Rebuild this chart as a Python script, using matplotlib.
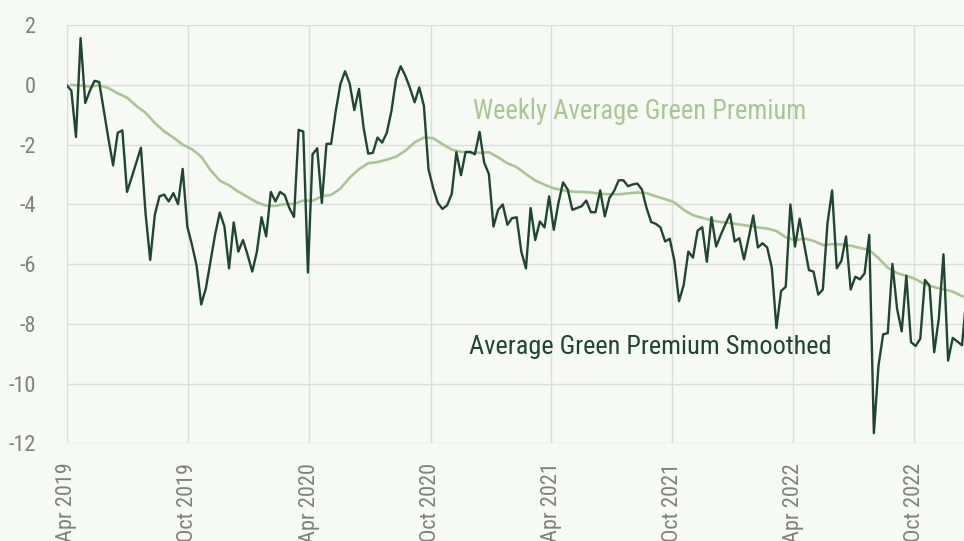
import numpy as np
import pandas as pd
import matplotlib
matplotlib.use("Agg")
import matplotlib.pyplot as plt
import matplotlib.dates as mdates
from matplotlib import font_manager

# pick the narrowest installed sans we can find
fonts = font_manager.fontManager.ttflist
names = {f.name for f in fonts}
if 'Liberation Sans Narrow' in names:
    family, stretch = 'Liberation Sans Narrow', 'normal'
elif 'Roboto Condensed' in names:
    family, stretch = 'Roboto Condensed', 'normal'
elif any(f.name == 'DejaVu Sans' and f.stretch == 'condensed' for f in fonts):
    family, stretch = 'DejaVu Sans', 'condensed'
else:
    family, stretch = 'Roboto', 'normal'

plt.rcParams['font.family'] = [family, 'DejaVu Sans']
plt.rcParams['font.stretch'] = stretch
plt.rcParams['axes.unicode_minus'] = False

# weekly observations, starting Apr 2019
weeks = pd.date_range('2019-04-01', periods=195, freq='7D')

smoothed = [
    0.0, -0.19, -1.74, 1.57, -0.6, -0.19, 0.14, 0.1, -0.85, -1.8,
    -2.69, -1.6, -1.52, -3.58, -3.1, -2.6, -2.1, -4.3, -5.86, -4.34,
    -3.73, -3.67, -3.9, -3.62, -3.99, -2.81, -4.74, -5.35, -6.05, -7.35,
    -6.81, -5.9, -5.0, -4.27, -4.74, -6.14, -4.6, -5.58, -5.19, -5.69,
    -6.25, -5.58, -4.43, -5.07, -3.58, -3.9, -3.58, -3.69, -4.12, -4.42,
    -1.5, -1.56, -6.28, -2.32, -2.12, -3.95, -1.97, -1.97, -0.87, 0.03,
    0.46, 0.05, -0.84, -0.13, -1.43, -2.3, -2.27, -1.76, -1.93, -1.6,
    -0.87, 0.2, 0.63, 0.31, -0.1, -0.58, -0.08, -0.7, -2.83, -3.45,
    -3.95, -4.15, -4.03, -3.65, -2.25, -3.02, -2.24, -2.24, -2.32, -1.57,
    -2.6, -2.98, -4.74, -4.18, -4.0, -4.68, -4.46, -4.43, -5.58, -6.14,
    -4.12, -5.19, -4.57, -4.77, -3.73, -4.85, -3.95, -3.26, -3.5, -4.18,
    -4.12, -4.06, -3.87, -4.26, -4.26, -3.53, -4.4, -3.78, -3.55, -3.19,
    -3.19, -3.39, -3.33, -3.3, -3.5, -4.12, -4.59, -4.65, -4.77, -5.24,
    -5.15, -5.89, -7.24, -6.7, -5.58, -5.78, -4.88, -4.76, -5.92, -4.43,
    -5.41, -5.02, -4.66, -4.32, -5.24, -5.13, -5.84, -5.13, -4.37, -5.44,
    -5.3, -5.44, -6.12, -8.14, -6.9, -6.76, -4.0, -5.41, -4.48, -5.36,
    -6.2, -6.25, -7.02, -6.85, -4.63, -3.53, -6.14, -5.89, -5.07, -6.85,
    -6.42, -6.51, -6.31, -5.02, -11.66, -9.39, -8.35, -8.31, -5.99, -7.49,
    -8.25, -6.39, -8.61, -8.74, -8.5, -6.53, -6.72, -8.95, -7.82, -5.67,
    -9.23, -8.47, -8.59, -8.72, -7.0,
]

# weekly average line, read every second week
avg_dates = pd.date_range('2019-04-08', periods=98, freq='14D')
weekly_avg = [
    0.0, -0.02, -0.05, -0.01, -0.1, -0.28, -0.42, -0.7, -0.93, -1.27,
    -1.55, -1.76, -2.0, -2.15, -2.4, -2.85, -3.2, -3.36, -3.57, -3.75,
    -3.93, -4.04, -4.05, -3.99, -3.98, -3.87, -3.88, -3.72, -3.68, -3.47,
    -3.1, -2.82, -2.62, -2.58, -2.5, -2.4, -2.2, -1.92, -1.76, -1.78,
    -1.98, -2.16, -2.24, -2.27, -2.27, -2.25, -2.42, -2.62, -2.75, -2.98,
    -3.2, -3.34, -3.46, -3.53, -3.57, -3.58, -3.6, -3.64, -3.66, -3.66,
    -3.63, -3.6, -3.62, -3.73, -3.82, -3.93, -4.18, -4.36, -4.45, -4.53,
    -4.59, -4.62, -4.67, -4.72, -4.77, -4.81, -4.89, -5.1, -5.2, -5.14,
    -5.22, -5.36, -5.33, -5.34, -5.38, -5.46, -5.52, -5.8, -6.12, -6.3,
    -6.39, -6.5, -6.68, -6.77, -6.84, -6.92, -7.07, -7.15,
]

yticks = [2, 0, -2, -4, -6, -8, -10, -12]

bg = '#f6f9f4'
dark = '#1f4631'
light = '#a9c692'
grey = '#808080'

fig = plt.figure(figsize=(9.64, 5.41), dpi=100, facecolor=bg)
ax = fig.add_axes([66.7 / 964, 1 - 443.3 / 541, 1 - 66.7 / 964, 418 / 541])
ax.set_facecolor(bg)

ax.plot(avg_dates, weekly_avg, color=light, linewidth=1.9, zorder=3)
ax.plot(weeks, smoothed, color=dark, linewidth=1.7, zorder=4)

ax.set_ylim(-12, 2)
ax.set_yticks(yticks)
ax.set_xlim(pd.Timestamp('2019-04-01'), pd.Timestamp('2022-12-15'))
ax.xaxis.set_major_locator(mdates.MonthLocator(bymonth=[4, 10]))
ax.xaxis.set_major_formatter(mdates.DateFormatter('%b %Y'))

ax.grid(True, color='#dcdcdc', linewidth=1.0)
ax.set_axisbelow(True)
for s in ax.spines.values():
    s.set_visible(False)

ax.tick_params(axis='y', length=0, pad=22, labelsize=16, labelcolor=grey)
ax.tick_params(axis='x', length=0, pad=14, labelsize=16, labelcolor=grey,
               labelrotation=90)

t1 = ax.text(0.4528, 0.775, 'Weekly Average Green Premium', transform=ax.transAxes,
             color=light, fontsize=21, va='baseline', ha='left')
t2 = ax.text(0.4487, 0.2136, 'Average Green Premium Smoothed', transform=ax.transAxes,
             color=dark, fontsize=21, va='baseline', ha='left')

# shrink the labels to the width they have in the original
renderer = fig.canvas.get_renderer()
for t, target in [(t1, 333), (t2, 362)]:
    w = t.get_window_extent(renderer).width
    if w > target:
        t.set_fontsize(21 * target / w)

fig.savefig('out.png', dpi=100, facecolor=bg)
